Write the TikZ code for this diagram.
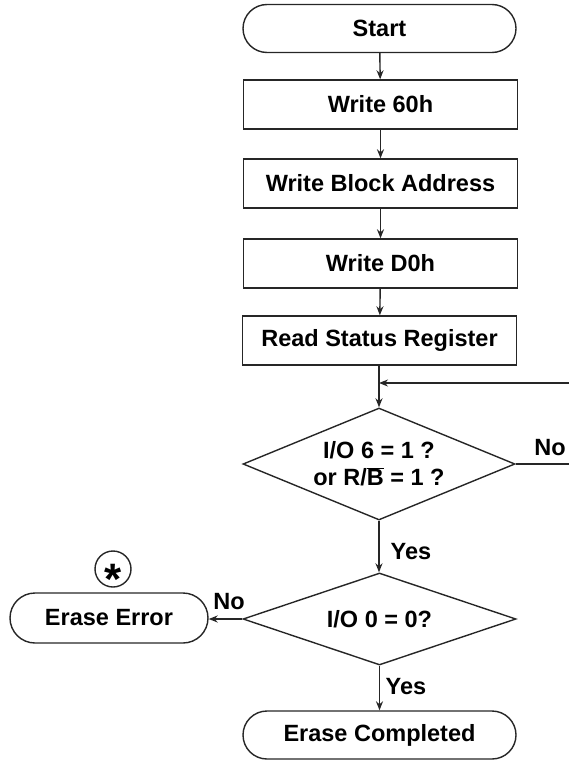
\documentclass[tikz,border=0pt]{standalone}
\usepackage{fontspec}
\setmainfont{Liberation Sans}
\usetikzlibrary{shapes.geometric,arrows.meta}
\tikzset{
  base/.style={draw=black!85, line width=1.4pt, font=\bfseries\fontsize{23.5}{27}\selectfont, inner sep=0pt, align=center},
  pill/.style={base, rectangle, rounded corners=24pt, minimum width=273pt, minimum height=48pt},
  stepbox/.style={base, rectangle, minimum width=274pt, minimum height=49pt},
  decision/.style={base, diamond, aspect=2.43},
  lbl/.style={font=\bfseries\fontsize{23.5}{27}\selectfont, inner sep=0pt},
  conn/.style={line width=1.4pt, draw=black!85},
  arr/.style={conn, -{Stealth[length=9pt,width=7pt]}}
}
\begin{document}
\begin{tikzpicture}[x=1pt,y=-1pt]
\useasboundingbox (0,0) rectangle (569,760);
\node[pill] (start) at (379.5,28.5) {Start};
\node[stepbox] (w60) at (380.5,104.5) {Write 60h};
\node[stepbox] (wba) at (380.5,183.5) {Write Block Address};
\node[stepbox] (wd0) at (380.5,263.5) {Write D0h};
\node[stepbox] (rsr) at (379.5,340.5) {Read Status Register};
\node[decision, minimum width=272pt, minimum height=112pt] (d1) at (379,464) {I/O 6 = 1 ?\\or R/$\overline{\mbox{B}}$ = 1 ?};
\node[decision, minimum width=273pt, minimum height=92pt] (d2) at (379.5,619) {I/O 0 = 0?};
\node[pill, minimum width=198pt, minimum height=50pt, rounded corners=25pt] (err) at (109,618) {Erase Error};
\node[pill] (done) at (379.5,735) {Erase Completed};
\node[circle, draw=black!85, line width=1.4pt, minimum size=36pt, inner sep=0pt, font=\bfseries\fontsize{44}{44}\selectfont] (star) at (113,569) {\smash{\raisebox{-0.58em}{*}}};
\coordinate (join) at (379,383);
\coordinate (fbin) at (569,383);
\coordinate (noout) at (569,464);
\draw[arr] (start) -- (w60);
\draw[arr] (w60) -- (wba);
\draw[arr] (wba) -- (wd0);
\draw[arr] (wd0) -- (rsr);
\draw[arr] (rsr.south -| d1.north) -- (d1.north);
\draw[arr] (fbin) -- (join);
\draw[conn] (d1.east) -- (noout);
\draw[arr] (d1.south) -- (d2.north -| d1.south);
\draw[arr] (d2.west) -- (err.east |- d2.west);
\draw[arr] (d2.south) -- (done.north -| d2.south);
\node[lbl] (no1) at (550,448) {No};
\node[lbl] (yes1) at (411,552) {Yes};
\node[lbl] (no2) at (229,602) {No};
\node[lbl] (yes2) at (406,687) {Yes};
\end{tikzpicture}
\end{document}
